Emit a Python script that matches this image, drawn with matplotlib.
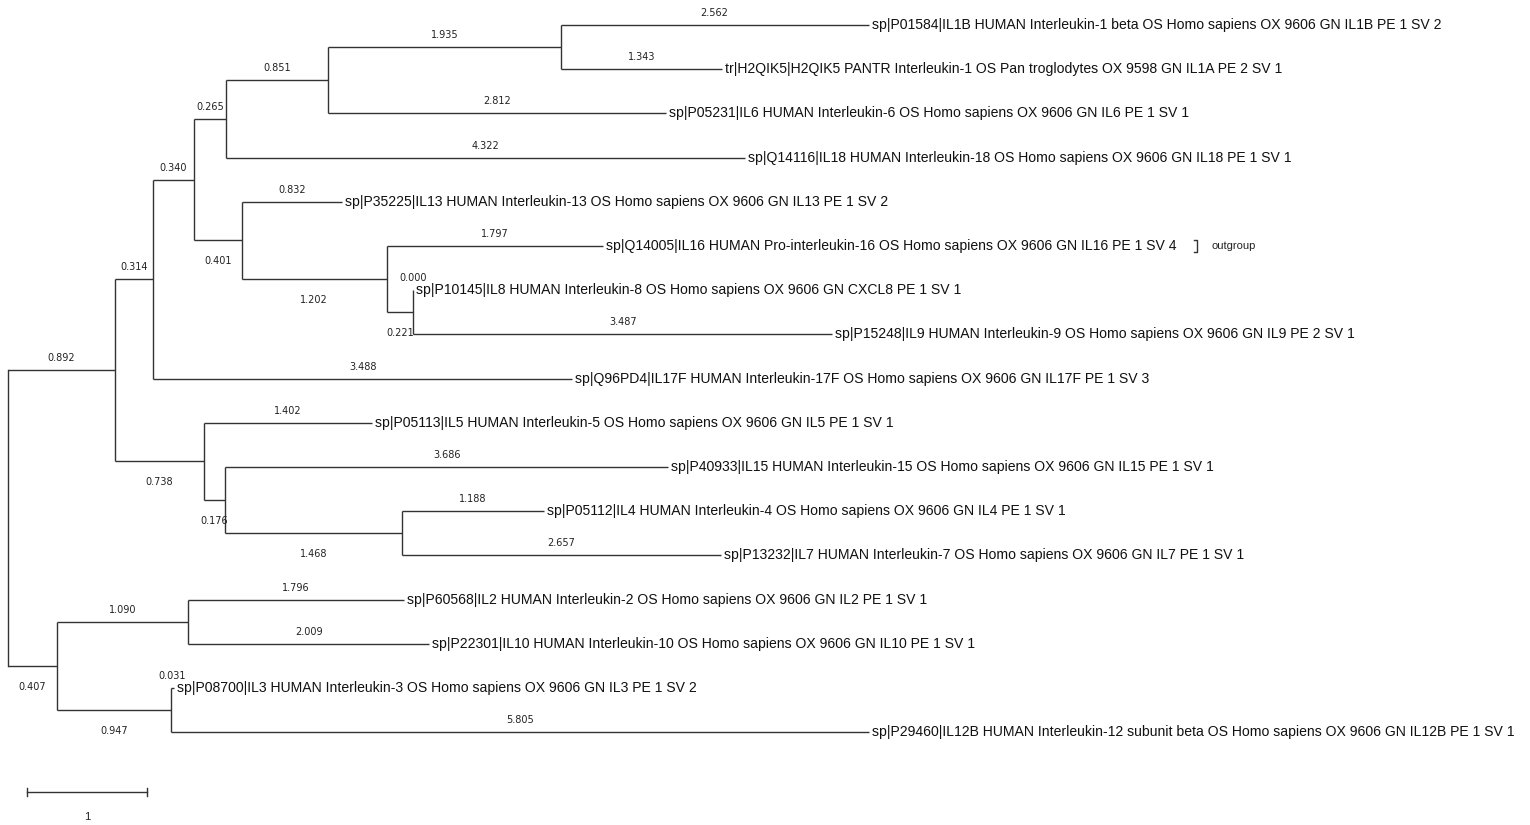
import re
import matplotlib
matplotlib.use('Agg')
import matplotlib.pyplot as plt

# tree topology with branch lengths (top-to-bottom leaf order)
newick = ("(((((((IL1B:2.562,IL1A:1.343):1.935,IL6:2.812):0.851,IL18:4.322):0.265,"
          "(IL13:0.832,(IL16:1.797,(IL8:0.000,IL9:3.487):0.221):1.202):0.401):0.340,"
          "IL17F:3.488):0.314,(IL5:1.402,(IL15:3.686,(IL4:1.188,IL7:2.657):1.468):0.176):0.738):0.892,"
          "((IL2:1.796,IL10:2.009):1.090,(IL3:0.031,IL12B:5.805):0.947):0.407);")

leaf_labels = {
    'IL1B': 'sp|P01584|IL1B HUMAN Interleukin-1 beta OS Homo sapiens OX 9606 GN IL1B PE 1 SV 2',
    'IL1A': 'tr|H2QIK5|H2QIK5 PANTR Interleukin-1 OS Pan troglodytes OX 9598 GN IL1A PE 2 SV 1',
    'IL6': 'sp|P05231|IL6 HUMAN Interleukin-6 OS Homo sapiens OX 9606 GN IL6 PE 1 SV 1',
    'IL18': 'sp|Q14116|IL18 HUMAN Interleukin-18 OS Homo sapiens OX 9606 GN IL18 PE 1 SV 1',
    'IL13': 'sp|P35225|IL13 HUMAN Interleukin-13 OS Homo sapiens OX 9606 GN IL13 PE 1 SV 2',
    'IL16': 'sp|Q14005|IL16 HUMAN Pro-interleukin-16 OS Homo sapiens OX 9606 GN IL16 PE 1 SV 4',
    'IL8': 'sp|P10145|IL8 HUMAN Interleukin-8 OS Homo sapiens OX 9606 GN CXCL8 PE 1 SV 1',
    'IL9': 'sp|P15248|IL9 HUMAN Interleukin-9 OS Homo sapiens OX 9606 GN IL9 PE 2 SV 1',
    'IL17F': 'sp|Q96PD4|IL17F HUMAN Interleukin-17F OS Homo sapiens OX 9606 GN IL17F PE 1 SV 3',
    'IL5': 'sp|P05113|IL5 HUMAN Interleukin-5 OS Homo sapiens OX 9606 GN IL5 PE 1 SV 1',
    'IL15': 'sp|P40933|IL15 HUMAN Interleukin-15 OS Homo sapiens OX 9606 GN IL15 PE 1 SV 1',
    'IL4': 'sp|P05112|IL4 HUMAN Interleukin-4 OS Homo sapiens OX 9606 GN IL4 PE 1 SV 1',
    'IL7': 'sp|P13232|IL7 HUMAN Interleukin-7 OS Homo sapiens OX 9606 GN IL7 PE 1 SV 1',
    'IL2': 'sp|P60568|IL2 HUMAN Interleukin-2 OS Homo sapiens OX 9606 GN IL2 PE 1 SV 1',
    'IL10': 'sp|P22301|IL10 HUMAN Interleukin-10 OS Homo sapiens OX 9606 GN IL10 PE 1 SV 1',
    'IL3': 'sp|P08700|IL3 HUMAN Interleukin-3 OS Homo sapiens OX 9606 GN IL3 PE 1 SV 2',
    'IL12B': 'sp|P29460|IL12B HUMAN Interleukin-12 subunit beta OS Homo sapiens OX 9606 GN IL12B PE 1 SV 1',
}
outgroup_leaf = 'IL16'
scale_length = 1


def parse(s):
    tokens = re.findall(r'[(),;]|[^(),;]+', s)
    pos = 0

    def node():
        nonlocal pos
        n = {'children': [], 'name': None, 'bl': 0.0}
        if tokens[pos] == '(':
            pos += 1
            n['children'].append(node())
            while tokens[pos] == ',':
                pos += 1
                n['children'].append(node())
            pos += 1  # ')'
        if pos < len(tokens) and tokens[pos] not in '(),;':
            t = tokens[pos]
            pos += 1
            if ':' in t:
                name, bl = t.split(':')
                n['bl'] = float(bl)
                n['name'] = name or None
            else:
                n['name'] = t
        return n
    return node()


root = parse(newick)
leaf_counter = [0]


def layout(n, x0):
    n['x'] = x0 + n['bl']
    if not n['children']:
        n['y'] = leaf_counter[0]
        leaf_counter[0] += 1
    else:
        for c in n['children']:
            layout(c, n['x'])
        n['y'] = (n['children'][0]['y'] + n['children'][-1]['y']) / 2
    return n


root['bl'] = 0.0
layout(root, 0.0)

# pixel mapping: x=0 at px 8, ~120 px per unit; leaf 0 at px 25, 44.2 px per leaf
W, H = 1530, 825
ppu, x0px = 120.2, 8.0
ppl, y0px = 44.2, 25.0

fig = plt.figure(figsize=(W / 100, H / 100), dpi=100)
ax = fig.add_axes([0, 0, 1, 1])
ax.set_xlim(-x0px / ppu, (W - x0px) / ppu)
ax.set_ylim((H - y0px) / ppl, -y0px / ppl)
ax.axis('off')

lc = '#333333'
lw = 1.0
above = 12 / ppl
below = 21 / ppl


def branch_label(px, c, lower):
    off = below if (lower and c['children']) else -above
    ax.text((px + c['x']) / 2, c['y'] + off, '%.3f' % c['bl'],
            fontsize=7, family='DejaVu Sans', color='#222222', ha='center', va='center')


def draw(n, parent_x):
    ax.plot([parent_x, n['x']], [n['y'], n['y']], color=lc, lw=lw, solid_capstyle='butt')
    if n['children']:
        ys = [c['y'] for c in n['children']]
        ax.plot([n['x'], n['x']], [min(ys), max(ys)], color=lc, lw=lw, solid_capstyle='butt')
        for i, c in enumerate(n['children']):
            draw(c, n['x'])
            branch_label(n['x'], c, i > 0)
    else:
        ax.text(n['x'] + 3 / ppu, n['y'], leaf_labels[n['name']], fontsize=10.1,
                family='Liberation Sans', color='#111111', ha='left', va='center')
        if n['name'] == outgroup_leaf:
            bx = (1197 - x0px) / ppu
            ax.plot([bx - 3 / ppu, bx, bx, bx - 3 / ppu],
                    [n['y'] - 6 / ppl, n['y'] - 6 / ppl, n['y'] + 6 / ppl, n['y'] + 6 / ppl],
                    color=lc, lw=lw)
            ax.text(bx + 14 / ppu, n['y'], 'outgroup', fontsize=8, family='Liberation Sans',
                    color='#222222', ha='left', va='center')


for i, c in enumerate(root['children']):
    draw(c, root['x'])
    branch_label(root['x'], c, i > 0)
ys = [c['y'] for c in root['children']]
ax.plot([root['x'], root['x']], [min(ys), max(ys)], color=lc, lw=lw)

# scale bar
sx = (27 - x0px) / ppu
sy = (792 - y0px) / ppl
ax.plot([sx, sx + scale_length], [sy, sy], color=lc, lw=lw)
for xx in (sx, sx + scale_length):
    ax.plot([xx, xx], [sy - 4 / ppl, sy + 4 / ppl], color=lc, lw=lw)
ax.text(sx + scale_length / 2, (817 - y0px) / ppl, str(scale_length), fontsize=8,
        family='Liberation Sans', ha='center', va='center', color='#222222')

fig.savefig('out.png', dpi=100)
